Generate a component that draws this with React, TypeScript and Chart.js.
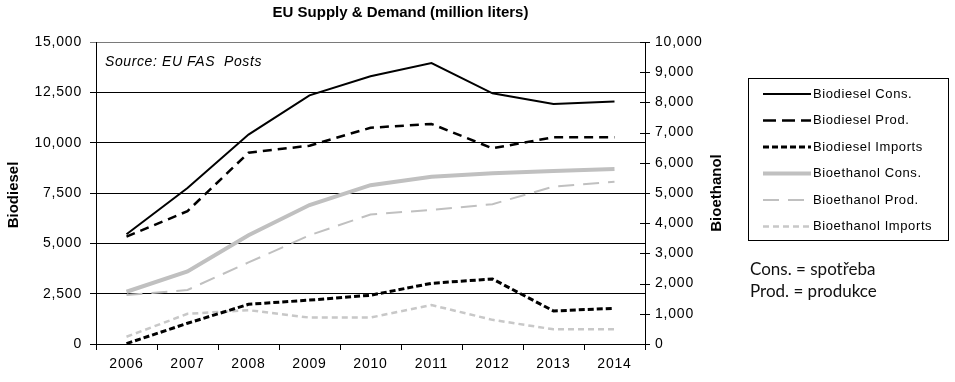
import React, { useEffect, useRef } from 'react';
import { Chart, registerables } from 'chart.js';

Chart.register(...registerables);

const years = ['2006', '2007', '2008', '2009', '2010', '2011', '2012', '2013', '2014'];

const biodieselCons = [5450, 7750, 10400, 12350, 13300, 13950, 12450, 11920, 12040];
const biodieselProd = [5330, 6600, 9500, 9850, 10740, 10930, 9720, 10270, 10270];
const biodieselImports = [20, 1030, 1970, 2180, 2420, 3015, 3230, 1640, 1775];
const bioethanolCons = [1730, 2400, 3600, 4600, 5260, 5540, 5650, 5730, 5795];
const bioethanolProd = [1620, 1790, 2700, 3600, 4290, 4440, 4630, 5210, 5375];
const bioethanolImports = [240, 1000, 1120, 875, 875, 1290, 800, 485, 485];

const leftMax = 15000;
const leftStep = 2500;
const rightMax = 10000;
const rightStep = 1000;

const chartTitle = 'EU Supply & Demand (million liters)';
const leftAxisTitle = 'Biodiesel';
const rightAxisTitle = 'Bioethanol';
const sourceText = 'Source: EU FAS  Posts';
const noteLines = ['Cons. = spotřeba', 'Prod. = produkce'];

const seriesLabels = [
  'Biodiesel Cons.',
  'Biodiesel Prod.',
  'Biodiesel Imports',
  'Bioethanol Cons.',
  'Bioethanol Prod.',
  'Bioethanol Imports',
];

const FONT = '"Liberation Sans", Arial, sans-serif';

type Style = { color: string; width: number; dash: number[]; legendDash: number[]; axis: string };
const styles: Style[] = [
  { color: '#000000', width: 2, dash: [], legendDash: [], axis: 'y' },
  { color: '#000000', width: 2.5, dash: [9, 6], legendDash: [13, 6], axis: 'y' },
  { color: '#000000', width: 3, dash: [6, 3], legendDash: [6, 3], axis: 'y' },
  { color: '#c0c0c0', width: 4, dash: [], legendDash: [], axis: 'y1' },
  { color: '#c0c0c0', width: 2, dash: [16, 9], legendDash: [16, 9], axis: 'y1' },
  { color: '#c8c8c8', width: 2.5, dash: [6, 4], legendDash: [6, 4], axis: 'y1' },
];

const seriesData = [
  biodieselCons,
  biodieselProd,
  biodieselImports,
  bioethanolCons,
  bioethanolProd,
  bioethanolImports,
];

const fmt = (v: number) => Number(v).toLocaleString('en-US');

const decorPlugin = {
  id: 'decor',
  beforeDraw(chart: any) {
    chart.ctx.letterSpacing = '0.8px';
  },
  afterDraw(chart: any) {
    const ctx: CanvasRenderingContext2D = chart.ctx;
    const { left, right, top, bottom } = chart.chartArea;
    ctx.save();
    ctx.letterSpacing = '0px';
    ctx.fillStyle = '#000';

    // title
    ctx.font = `bold 15px ${FONT}`;
    ctx.textAlign = 'center';
    ctx.textBaseline = 'middle';
    ctx.fillText(chartTitle, (left + right) / 2 + 30, 13);

    // source text
    ctx.font = `italic 14px ${FONT}`;
    ctx.letterSpacing = '0.6px';
    ctx.textAlign = 'left';
    ctx.fillText(sourceText, left + 9, top + 20);
    ctx.letterSpacing = '0px';

    // axis titles
    const midY = (top + bottom) / 2;
    ctx.font = `bold 15px ${FONT}`;
    ctx.textAlign = 'center';
    ctx.save();
    ctx.translate(14, midY + 2);
    ctx.rotate(-Math.PI / 2);
    ctx.fillText(leftAxisTitle, 0, 0);
    ctx.restore();
    ctx.save();
    ctx.translate(right + 72, midY);
    ctx.rotate(-Math.PI / 2);
    ctx.fillText(rightAxisTitle, 0, 0);
    ctx.restore();

    // right axis crossing tick marks
    const y1 = chart.scales.y1;
    ctx.strokeStyle = '#000';
    ctx.lineWidth = 1;
    ctx.setLineDash([]);
    y1.ticks.forEach((t: any) => {
      const py = Math.round(y1.getPixelForValue(t.value)) + 0.5;
      ctx.beginPath();
      ctx.moveTo(right - 5, py);
      ctx.lineTo(right + 5, py);
      ctx.stroke();
    });

    // legend
    const lx = 748;
    const ly = 78;
    const lw = 200;
    const lh = 162;
    ctx.strokeStyle = '#000';
    ctx.lineWidth = 1;
    ctx.strokeRect(lx + 0.5, ly + 0.5, lw, lh);
    ctx.font = `13px ${FONT}`;
    ctx.textAlign = 'left';
    ctx.textBaseline = 'middle';
    seriesLabels.forEach((label, i) => {
      const s = styles[i];
      const ry = ly + 16 + i * 26.5;
      ctx.save();
      ctx.strokeStyle = s.color;
      ctx.lineWidth = s.width;
      ctx.setLineDash(s.legendDash);
      ctx.beginPath();
      ctx.moveTo(lx + 15, ry);
      ctx.lineTo(lx + 63, ry);
      ctx.stroke();
      ctx.restore();
      ctx.fillStyle = '#000';
      ctx.letterSpacing = '0.6px';
      ctx.fillText(label, lx + 65, ry);
      ctx.letterSpacing = '0px';
    });

    // notes
    ctx.font = `17px Lato, "Open Sans", sans-serif`;
    ctx.fillStyle = '#111';
    noteLines.forEach((line, i) => {
      ctx.fillText(line, lx + 2, 270 + i * 22);
    });

    ctx.restore();
  },
};

export default function App() {
  const ref = useRef<HTMLCanvasElement | null>(null);

  useEffect(() => {
    if (!ref.current) return;
    const chart = new Chart(ref.current, {
      type: 'line',
      data: {
        labels: years,
        datasets: seriesData.map((d, i) => ({
          label: seriesLabels[i],
          data: d,
          borderColor: styles[i].color,
          backgroundColor: styles[i].color,
          borderWidth: styles[i].width,
          borderDash: styles[i].dash,
          borderCapStyle: 'butt',
          borderJoinStyle: 'miter',
          pointRadius: 0,
          pointHoverRadius: 0,
          tension: 0,
          fill: false,
          yAxisID: styles[i].axis,
        })),
      },
      options: {
        responsive: false,
        animation: false,
        devicePixelRatio: 1,
        layout: { padding: { top: 42, left: 0, right: 250, bottom: 0 } },
        plugins: {
          legend: { display: false },
          title: { display: false },
          tooltip: { enabled: false },
        },
        scales: {
          x: {
            type: 'category',
            offset: true,
            afterFit: (s: any) => {
              s.height = 38;
            },
            grid: {
              offset: true,
              drawOnChartArea: false,
              drawTicks: true,
              tickLength: 6,
              color: '#000',
            },
            border: { display: true, color: '#000', width: 1 },
            ticks: {
              color: '#000',
              font: { family: FONT, size: 14 },
              padding: 6,
              maxRotation: 0,
            },
          },
          y: {
            position: 'left',
            min: 0,
            max: leftMax,
            afterFit: (s: any) => {
              s.width = 96;
            },
            grid: {
              drawOnChartArea: true,
              drawTicks: true,
              tickLength: 6,
              color: (c: any) => (c.tick && c.tick.value === leftMax ? '#7a7a7a' : '#000'),
              lineWidth: 1,
            },
            border: { display: true, color: '#000', width: 1 },
            ticks: {
              stepSize: leftStep,
              color: '#000',
              font: { family: FONT, size: 14 },
              padding: 8,
              callback: (v: any) => fmt(v),
            },
          },
          y1: {
            position: 'right',
            min: 0,
            max: rightMax,
            afterFit: (s: any) => {
              s.width = 60;
            },
            grid: { drawOnChartArea: false, drawTicks: false },
            border: { display: true, color: '#000', width: 1 },
            ticks: {
              stepSize: rightStep,
              color: '#000',
              font: { family: FONT, size: 14 },
              padding: 10,
              callback: (v: any) => fmt(v),
            },
          },
        },
      },
      plugins: [decorPlugin],
    } as any);
    return () => chart.destroy();
  }, []);

  return (
    <div style={{ position: 'fixed', left: 0, top: 0, width: 955, height: 382, background: '#fff' }}>
      <canvas ref={ref} width={955} height={382} style={{ display: 'block' }} />
    </div>
  );
}
